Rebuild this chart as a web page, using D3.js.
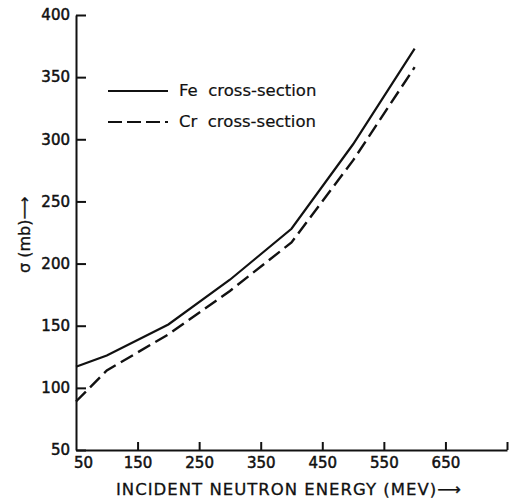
<!DOCTYPE html>
<html>
<head>
<meta charset="utf-8">
<script src="https://cdn.jsdelivr.net/npm/d3@7"></script>
<style>
    body { margin: 0; background: #fff; }
    svg { font-family: "DejaVu Sans", sans-serif; }
</style>
</head>
<body>
<div id="chart"></div>
<script>

// values
const energy = [50, 100, 200, 300, 400, 500, 600];
const feValues = [117, 126, 151, 187, 228, 296, 373];
const crValues = [89, 114, 143, 178, 217, 283, 358];

const xTicks = [50, 150, 250, 350, 450, 550, 650, 750];
const yTicks = [50, 100, 150, 200, 250, 300, 350, 400];

const seriesNames = ["Fe  cross-section", "Cr  cross-section"];

const widthSvg = 511, heightSvg = 502;

const xScale = d3.scaleLinear()
    .domain([50, 750])
    .range([76, 507]);

const yScale = d3.scaleLinear()
    .domain([50, 400])
    .range([450, 15]);

let svg = d3.select("#chart").append("svg")
    .attr("width", widthSvg).attr("height", heightSvg);

// y axis, ticks pointing inward
let yAxis = svg.append("g")
    .attr("transform", `translate(${xScale(50)}, 0)`)
    .call(d3.axisLeft(yScale).tickValues(yTicks).tickSize(-10).tickSizeOuter(0).tickPadding(6));

yAxis.selectAll("text")
    .attr("font-size", 15)
    .attr("font-family", "DejaVu Sans")
    .attr("fill", "#111")
    .attr("stroke", "#111")
    .attr("stroke-width", 0.5);

// x axis, ticks pointing up
let xAxis = svg.append("g")
    .attr("transform", `translate(0, ${yScale(50)})`)
    .call(d3.axisBottom(xScale).tickValues(xTicks).tickSize(-8).tickSizeOuter(0).tickPadding(7)
        .tickFormat(d => d === 750 ? "" : d));

xAxis.selectAll("text")
    .attr("font-size", 15)
    .attr("font-family", "DejaVu Sans")
    .attr("fill", "#111")
    .attr("stroke", "#111")
    .attr("stroke-width", 0.5)
    .attr("dx", d => d === 50 ? 7 : 0);

xAxis.selectAll(".tick").filter(d => d === 50).select("line").remove();

svg.selectAll(".domain, .tick line")
    .attr("stroke", "#111")
    .attr("stroke-width", 2);

// axis titles
svg.append("text")
    .text("INCIDENT NEUTRON ENERGY (MEV)⟶")
    .attr("x", 116)
    .attr("y", 495)
    .attr("font-size", 16.5)
    .attr("letter-spacing", 1)
    .attr("fill", "#111")
    .attr("stroke", "#111")
    .attr("stroke-width", 0.3);

svg.append("text")
    .text("σ (mb)⟶")
    .attr("transform", "translate(30, 273) rotate(-90)")
    .attr("font-size", 16)
    .attr("fill", "#111")
    .attr("stroke", "#111")
    .attr("stroke-width", 0.3);

// lines
const line = d3.line()
    .x((d, i) => xScale(energy[i]))
    .y(d => yScale(d));

svg.append("path")
    .datum(feValues)
    .attr("d", line)
    .attr("fill", "none")
    .attr("stroke", "#111")
    .attr("stroke-width", 2.2);

svg.append("path")
    .datum(crValues)
    .attr("d", line)
    .attr("fill", "none")
    .attr("stroke", "#111")
    .attr("stroke-width", 2.4)
    .attr("stroke-dasharray", "14,6");

// legend
let legend = svg.append("g").attr("transform", "translate(108, 91)");

legend.selectAll("line")
    .data(seriesNames)
    .enter()
    .append("line")
    .attr("x1", 0)
    .attr("x2", 60)
    .attr("y1", (d, i) => i * 31)
    .attr("y2", (d, i) => i * 31)
    .attr("stroke", "#111")
    .attr("stroke-width", 2.2)
    .attr("stroke-dasharray", (d, i) => i === 0 ? null : "14,5");

legend.selectAll("text")
    .data(seriesNames)
    .enter()
    .append("text")
    .text(d => d)
    .attr("x", 71)
    .attr("y", (d, i) => i * 31 + 5)
    .attr("font-size", 16.5)
    .attr("xml:space", "preserve")
    .style("white-space", "pre")
    .attr("fill", "#111")
    .attr("stroke", "#111")
    .attr("stroke-width", 0.2);

</script>
</body>
</html>
